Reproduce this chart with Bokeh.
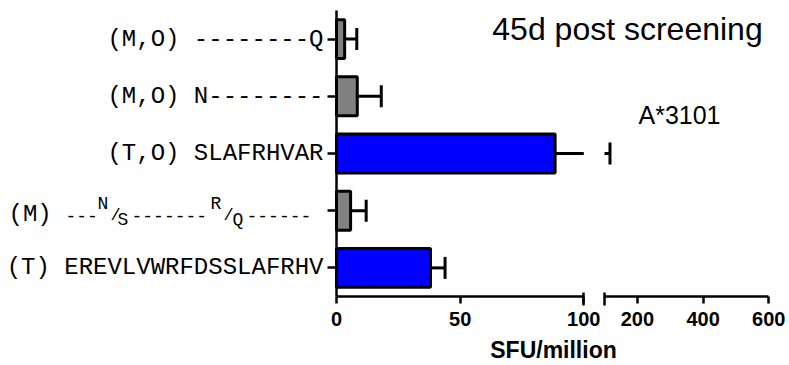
from bokeh.plotting import figure
from bokeh.models import (Range1d, LinearAxis, FixedTicker, Label, Whisker,
                          TeeHead, ColumnDataSource)
from bokeh.embed import file_html
from bokeh.resources import INLINE

# ---------------- data ----------------
categories = [
    "(M,O) --------Q",
    "(M,O) N--------",
    "(T,O) SLAFRHVAR",
    "(M) ---N/S-------R/Q------",
    "(T) EREVLVWRFDSSLAFRHV",
]
values = [3.3, 8.4, 88.4, 5.7, 38.0]
errors = [4.9, 9.7, 28.3, 6.3, 5.9]
bar_colors = ["#808080", "#808080", "#0000FF", "#808080", "#0000FF"]
left_ticks = [0, 50, 100]
right_ticks = [200, 400, 600]
break_value = 100
right_max = 600
title_text = "45d post screening"
allele_text = "A*3101"
x_label = "SFU/million"
# pieces of the 4th label (with super/subscripts)
special_row = 3
special_pieces = [("(M)", "n"), ("---", "d"), ("N", "sup"), ("/", "sl"), ("S", "sub"),
                  ("-------", "d"), ("R", "sup"), ("/", "sl"), ("Q", "sub"), ("------", "d")]

# ---------------- layout (pixels) ----------------
W, H = 789, 365
FL, FT, FH = 336, 10, 286          # data area: left edge, top edge, height
LEFT_PX, GAP_PX, RIGHT_PX = 247.3, 20.7, 164.3
n = len(categories)
ypos = [n - 1 - i for i in range(n)]
row_px = FH / n
lscale = LEFT_PX / break_value
rscale = RIGHT_PX / (right_max - break_value)
K_MID = 0.35                       # middle-of-text offset (fraction of font size) above baseline

x_range = Range1d(-FL / lscale, (W - FL) / lscale)
right_range = Range1d(break_value - (FL + LEFT_PX + GAP_PX) / rscale,
                      right_max + (W - FL - LEFT_PX - GAP_PX - RIGHT_PX) / rscale)
y_range = Range1d(-0.5 - (H - FT - FH) / row_px, n - 0.5 + FT / row_px)


def lx(px):
    return (px - FL) / lscale


def ry(px):
    return (n - 0.5) - (px - FT) / row_px


p = figure(width=W, height=H, min_border=0, x_range=x_range, y_range=y_range,
           x_axis_location=None, y_axis_location=None,
           output_backend="svg", toolbar_location=None,
           background_fill_color="white", border_fill_color="white")
p.outline_line_color = None
p.xgrid.visible = False
p.ygrid.visible = False
p.extra_x_ranges = {"right": right_range}

AXW = 2.5


def style_x(ax):
    ax.axis_line_width = AXW
    ax.major_tick_line_width = AXW
    ax.minor_tick_line_width = AXW
    ax.major_tick_in = 0
    ax.major_tick_out = 7
    ax.minor_tick_in = 4
    ax.minor_tick_out = 9
    ax.major_label_text_font = "Liberation Sans"
    ax.major_label_text_font_size = "20px"
    ax.major_label_text_font_style = "bold"
    ax.major_label_text_color = "black"
    ax.major_label_standoff = 6


# left x-axis segment
xa = LinearAxis(ticker=FixedTicker(ticks=left_ticks, minor_ticks=[break_value]),
                bounds=(0, break_value), fixed_location=-0.5)
style_x(xa)
p.add_layout(xa, "below")

# right x-axis segment
xb = LinearAxis(x_range_name="right",
                ticker=FixedTicker(ticks=right_ticks, minor_ticks=[break_value]),
                bounds=(break_value, right_max), fixed_location=-0.5)
style_x(xb)
p.add_layout(xb, "below")

# y axis
ya = LinearAxis(ticker=FixedTicker(ticks=ypos), bounds=(-0.5, n - 0.5), fixed_location=0)
ya.major_label_overrides = {y: ("" if i == special_row else c)
                            for i, (y, c) in enumerate(zip(ypos, categories))}
ya.axis_line_width = AXW
ya.major_tick_line_width = AXW
ya.major_tick_in = 0
ya.major_tick_out = 9
ya.minor_tick_line_color = None
ya.major_label_text_font = "Liberation Mono"
ya.major_label_text_font_size = "24px"
ya.major_label_text_color = "black"
ya.major_label_standoff = 4
p.add_layout(ya, "left")

# bars
src = ColumnDataSource(dict(y=ypos, v=values, c=bar_colors))
p.hbar(y="y", left=0, right="v", height=0.68, fill_color="c", line_color="black",
       line_width=3, source=src)

# error bars (upper only), split over the axis break
hi = [v + e for v, e in zip(values, errors)]
capped = [i for i in range(n) if hi[i] <= break_value]
broken = [i for i in range(n) if hi[i] > break_value]
s1 = ColumnDataSource(dict(y=[ypos[i] for i in capped], lo=[values[i] for i in capped],
                           hi=[hi[i] for i in capped]))
p.add_layout(Whisker(source=s1, dimension="width", base="y", lower="lo", upper="hi",
                     line_width=3, line_color="black", lower_head=None,
                     upper_head=TeeHead(size=22, line_width=3, line_color="black")))
s2 = ColumnDataSource(dict(y=[ypos[i] for i in broken], lo=[values[i] for i in broken],
                           hi=[break_value for i in broken]))
p.add_layout(Whisker(source=s2, dimension="width", base="y", lower="lo", upper="hi",
                     line_width=3, line_color="black", lower_head=None, upper_head=None))
s3 = ColumnDataSource(dict(y=[ypos[i] for i in broken], lo=[break_value for i in broken],
                           hi=[hi[i] for i in broken]))
p.add_layout(Whisker(source=s3, dimension="width", base="y", lower="lo", upper="hi",
                     x_range_name="right", line_width=3, line_color="black", lower_head=None,
                     upper_head=TeeHead(size=22, line_width=3, line_color="black")))

# special label with super/subscripts (baseline offsets below row centre, font px)
piece_left = [8, 65, 97, 110, 117, 131, 210, 223, 232, 246]
style = {"n": (12, 24), "d": (12, 18), "sup": (0, 18), "sl": (11, 17), "sub": (15.5, 18)}
for (txt, kind), left in zip(special_pieces, piece_left):
    dy, fs = style[kind]
    y = ypos[special_row] - (dy - K_MID * fs) / row_px
    p.add_layout(Label(x=lx(left), y=y, text=txt, text_font="Liberation Mono",
                       text_font_size=f"{fs}px", text_align="left", text_baseline="middle",
                       text_color="black"))


def text_label(txt, cx, base_px, size, bold=False):
    return Label(x=lx(cx), y=ry(base_px - K_MID * size), text=txt, text_font="Liberation Sans",
                 text_font_size=f"{size}px", text_font_style="bold" if bold else "normal",
                 text_align="center", text_baseline="middle", text_color="black")


p.add_layout(text_label(title_text, 627, 39.3, 32))
p.add_layout(text_label(allele_text, 679, 123.3, 25))
p.add_layout(text_label(x_label, 553, 357.3, 23, bold=True))

open("out.html", "w").write(file_html(p, INLINE))
